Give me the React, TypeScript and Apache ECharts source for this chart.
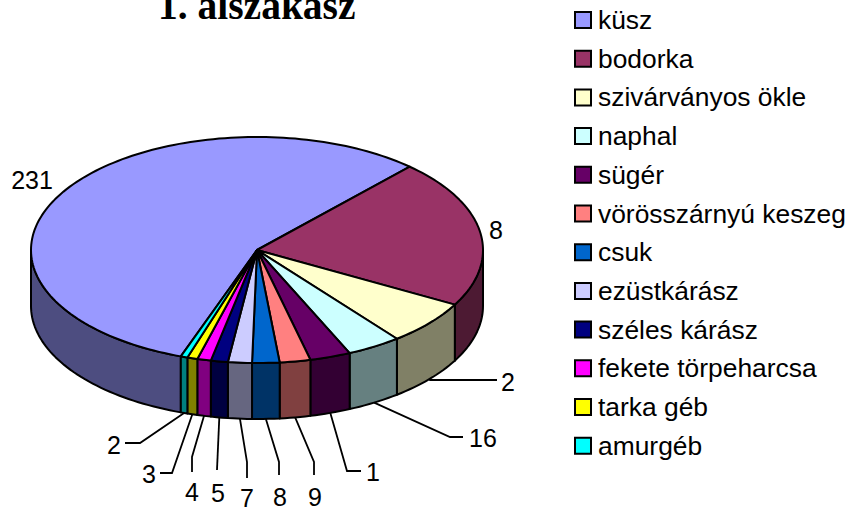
import React, { useEffect, useRef } from "react";
import * as echarts from "echarts";

const TITLE = "1. alszakasz";
const species = [
  "küsz", "bodorka", "szivárványos ökle", "naphal", "sügér", "vörösszárnyú keszeg",
  "csuk", "ezüstkárász", "széles kárász", "fekete törpeharcsa", "tarka géb", "amurgéb",
];
// Slice sizes.
const values = [231, 87, 26, 16, 12, 9, 8, 7, 5, 4, 3, 2];
// Labels as they are printed in the picture (some are cut to their first digit).
const shownLabels = ["231", "8", "2", "16", "1", "9", "8", "7", "5", "4", "3", "2"];
const colors = [
  "#9999FF", "#993366", "#FFFFCC", "#CCFFFF", "#660066", "#FF8080",
  "#0066CC", "#CCCCFF", "#000080", "#FF00FF", "#FFFF00", "#00FFFF",
];

// Layout of the tilted pie, separate from the data.
const CX = 257, CY = 250, RX = 226, RY = 113, DEPTH = 56, START_DEG = 109.7;
const FONT = "Liberation Sans";
const LABEL_SIZE = 25;
const labelPos: [number, number][] = [
  [32, 180], [496, 230], [508, 382], [483, 438], [373, 472], [315, 497],
  [280, 497], [247, 498], [218, 493], [192, 492], [149, 474], [114, 445],
];
// Leader line bends, after the point on the pie's lower edge.
const leaderBends: [number, number][][] = [
  [], [],
  [[430, 380], [497, 380]],
  [[450, 437], [463, 437]],
  [[347, 471], [361, 471]],
  [[314, 462], [314, 475]],
  [[279, 462], [279, 475]],
  [[247, 462], [247, 478]],
  [[217, 470]],
  [[192, 457], [192, 472]],
  [[172, 473], [160, 473]],
  [[140, 443], [125, 443]],
];

const total = values.reduce((a, b) => a + b, 0);
const starts = values.map((_, i) => values.slice(0, i).reduce((a, b) => a + b, 0));

const darker = (hex: string) => {
  const n = parseInt(hex.slice(1), 16);
  const h = (v: number) => Math.round(v / 2).toString(16).padStart(2, "0");
  return "#" + h((n >> 16) & 255) + h((n >> 8) & 255) + h(n & 255);
};
const pt = (deg: number, dy = 0): [number, number] => {
  const t = (deg * Math.PI) / 180;
  return [CX + RX * Math.cos(t), CY + dy + RY * Math.sin(t)];
};
const arc = (a: number, b: number, dy = 0) => {
  const out: [number, number][] = [];
  const n = Math.max(2, Math.ceil((b - a) / 1.5));
  for (let i = 0; i <= n; i++) out.push(pt(a + ((b - a) * i) / n, dy));
  return out;
};

const renderSlice = (index: number) => (_params: any, api: any) => {
  const val = api.value(0);
  const before = api.value(1);
  const a = START_DEG + (before / total) * 360;
  const b = a + (val / total) * 360;
  const color = colors[index];
  const line = { stroke: "#000", lineWidth: 2, lineJoin: "round" };
  const children: any[] = [];

  for (const k of [0, 360]) {
    const lo = Math.max(a, k);
    const hi = Math.min(b, k + 180);
    if (hi > lo) {
      children.push({
        type: "polygon",
        shape: { points: [...arc(lo, hi), ...arc(lo, hi, DEPTH).reverse()] },
        style: { fill: darker(color), ...line },
      });
    }
  }
  children.push({
    type: "polygon",
    shape: { points: [[CX, CY], ...arc(a, b)] },
    style: { fill: color, ...line },
  });

  const bends = leaderBends[index];
  if (bends.length) {
    children.push({
      type: "polyline",
      shape: { points: [pt((a + b) / 2, DEPTH), ...bends] },
      style: { fill: "none", stroke: "#000", lineWidth: 1.8 },
    });
  }
  children.push({
    type: "text",
    x: labelPos[index][0],
    y: labelPos[index][1],
    style: {
      text: shownLabels[index],
      fill: "#000",
      font: `${LABEL_SIZE}px "${FONT}"`,
      textAlign: "center",
      textVerticalAlign: "middle",
    },
  });
  return { type: "group", children };
};

export default function App() {
  const ref = useRef<HTMLDivElement>(null);
  useEffect(() => {
    const chart = echarts.init(ref.current!, undefined, { renderer: "svg" });
    chart.setOption({
      animation: false,
      backgroundColor: "#fff",
      title: {
        text: TITLE,
        left: 158,
        top: -14,
        padding: 0,
        textStyle: { fontFamily: "Liberation Serif", fontWeight: "bold", fontSize: 39.5, color: "#000" },
      },
      legend: {
        orient: "vertical",
        left: 574,
        top: 7,
        padding: 0,
        itemWidth: 16,
        itemHeight: 16,
        itemGap: 12.7,
        icon: "rect",
        selectedMode: false,
        data: species,
        itemStyle: { borderColor: "#000", borderWidth: 2 },
        textStyle: { fontFamily: FONT, fontSize: 26.4, color: "#000", padding: [0, 0, 0, 2] },
      },
      series: species.map((name, i) => ({
        type: "custom",
        name,
        coordinateSystem: "none",
        silent: true,
        itemStyle: { color: colors[i] },
        data: [[values[i], starts[i]]],
        renderItem: renderSlice(i),
      })),
    });
    return () => chart.dispose();
  }, []);
  return (
    <div
      ref={ref}
      style={{ position: "fixed", left: 0, top: 0, width: 849, height: 511 }}
    />
  );
}
